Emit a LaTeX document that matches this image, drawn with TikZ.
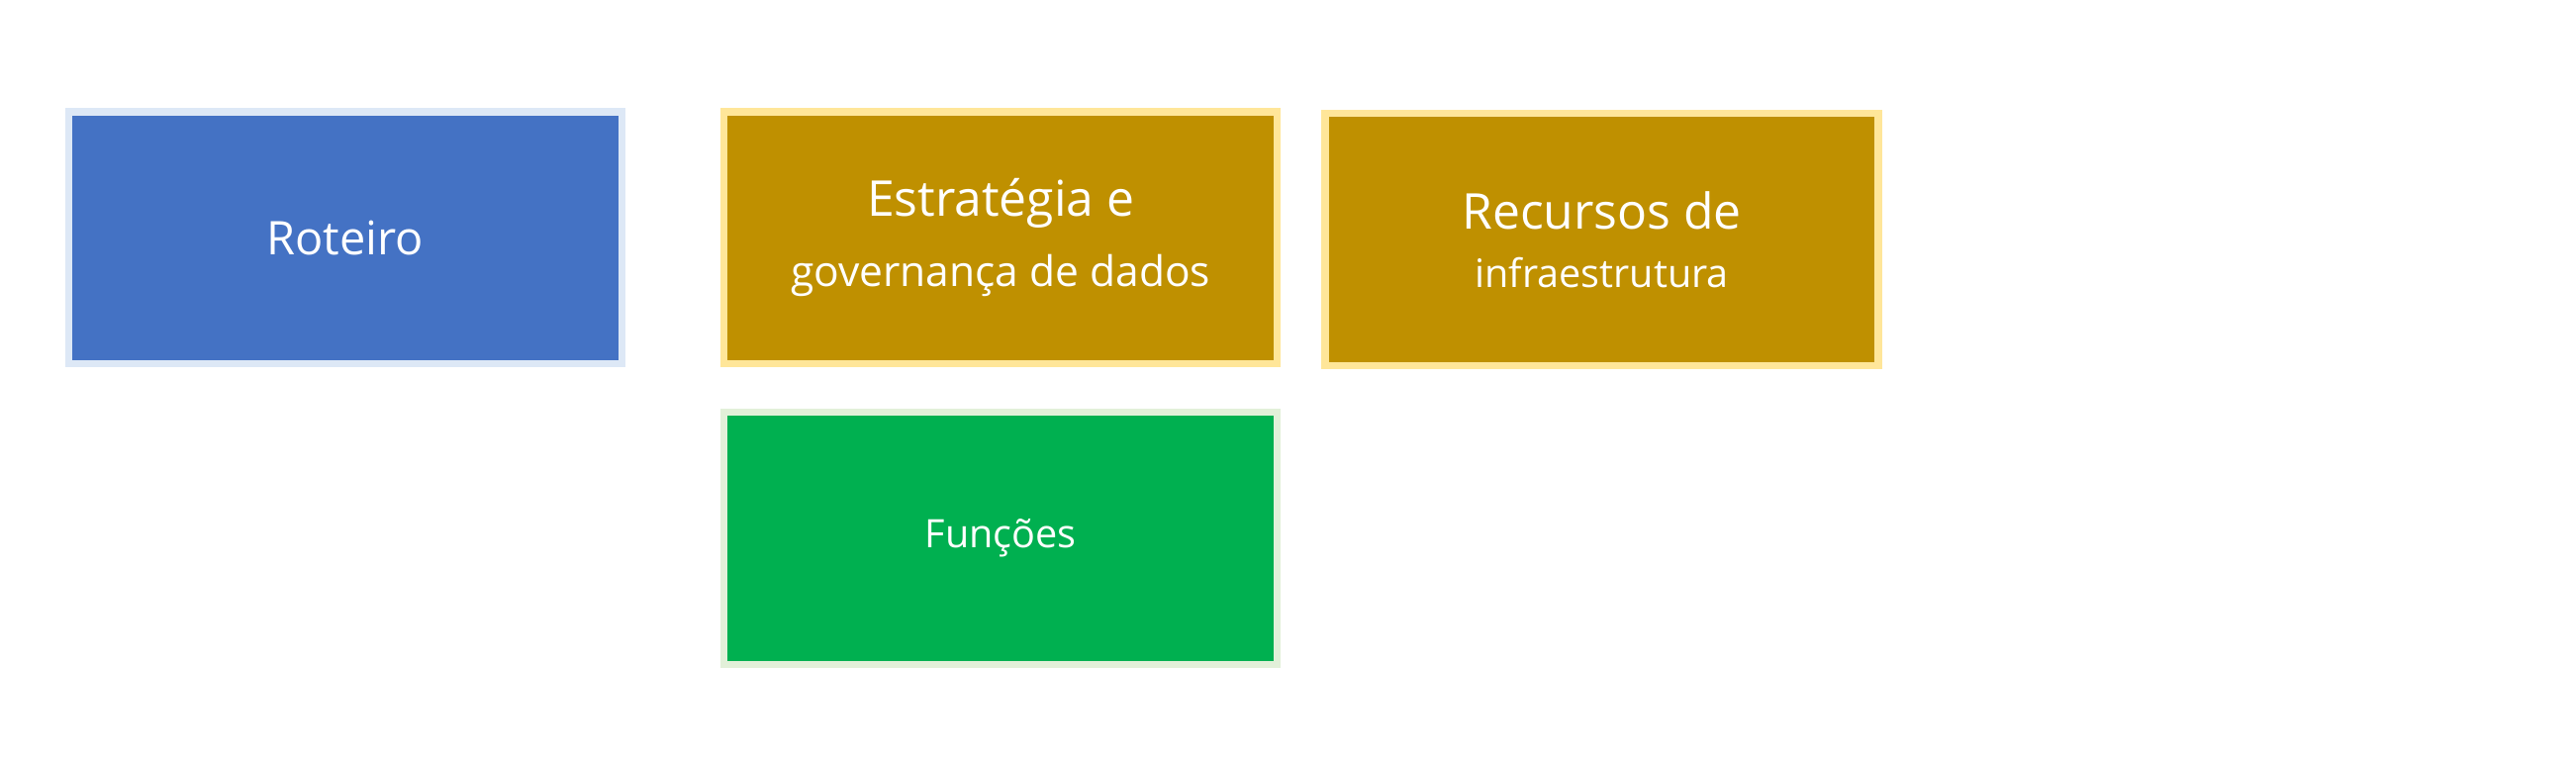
\documentclass[tikz,border=0pt]{standalone}
\usepackage{fontspec}
\setmainfont{Open Sans}
\usetikzlibrary{positioning}
\definecolor{roteiroblue}{HTML}{4472C4}
\definecolor{roteiroedge}{HTML}{DDE8F6}
\definecolor{recgold}{HTML}{BF9000}
\definecolor{recedge}{HTML}{FFE699}
\definecolor{funcgreen}{HTML}{00B050}
\definecolor{funcedge}{HTML}{E2F0D9}
\tikzset{
  card/.style={draw, line width=2.5pt, minimum width=6.7cm, minimum height=3.05cm,
    align=center, text=white, inner sep=0pt},
  bluecard/.style={card, fill=roteiroblue, draw=roteiroedge},
  goldcard/.style={card, fill=recgold, draw=recedge},
  greencard/.style={card, fill=funcgreen, draw=funcedge}
}
\begin{document}
\begin{tikzpicture}
        \useasboundingbox (0,0) rectangle (31.2,9.2);

        \node [bluecard] (roteiro) at (4.18, 6.32) {\fontsize{16}{19}\selectfont Roteiro};
        \node [goldcard] (estrategia) at (12.12, 6.32)
            {\fontsize{17}{20}\selectfont Estratégia e\\[8pt]\fontsize{14.5}{18}\selectfont governança de dados};
        \node [goldcard] (recursos) at (19.4, 6.30)
            {\fontsize{17}{20}\selectfont Recursos de\\[8pt]\fontsize{13.5}{18}\selectfont infraestrutura};

        \node [greencard] (funcoes) at (12.12, 2.68) {\fontsize{13.5}{16}\selectfont Funções};
\end{tikzpicture}
\end{document}
